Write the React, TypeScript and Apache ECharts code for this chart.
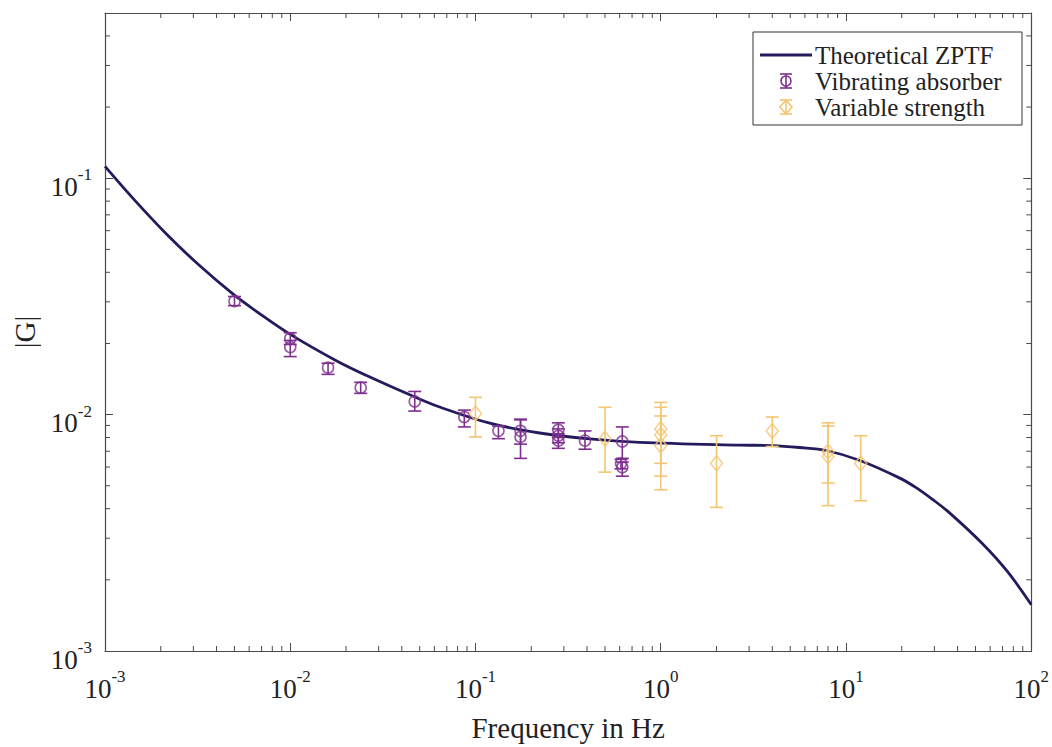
import React, { useEffect, useRef } from "react";
import * as echarts from "echarts";

const FONT = "Liberation Serif";
const LINE_COLOR = "#241b5c";
const PURPLE = "#7e2f8e";
const YELLOW = "#f4c573";
const AXIS_COLOR = "#4a4a4a";

// Theoretical ZPTF curve (frequency in Hz, |G|)
const curveFreq = [0.001, 0.001416, 0.002159, 0.00325, 0.0049, 0.00685, 0.00995, 0.01783, 0.0269, 0.0482, 0.0641, 0.1194, 0.222, 0.413, 0.769, 2.66, 4.01, 5.61, 7.83, 11.8, 19.4, 24.0, 29.2, 36.1, 54.4, 74.3, 100];
const curveG = [0.1122, 0.0822, 0.0578, 0.0426, 0.0324, 0.0267, 0.0219, 0.01687, 0.01442, 0.01178, 0.01077, 0.0092, 0.00836, 0.00789, 0.00763, 0.00743, 0.0074, 0.00726, 0.00705, 0.00641, 0.0054, 0.0049, 0.00439, 0.00385, 0.00285, 0.00217, 0.00157];

// Vibrating absorber measurements
const absorberFreq = [0.005, 0.01, 0.01, 0.016, 0.024, 0.047, 0.087, 0.133, 0.175, 0.175, 0.28, 0.28, 0.28, 0.39, 0.62, 0.61, 0.62];
const absorberG = [0.0302, 0.021, 0.0193, 0.0158, 0.013, 0.01137, 0.00977, 0.00854, 0.00854, 0.00805, 0.00863, 0.00814, 0.00776, 0.00776, 0.0077, 0.00622, 0.00599];
const absorberLow = [0.0289, 0.0198, 0.0176, 0.0148, 0.0123, 0.01035, 0.00887, 0.00791, 0.0075, 0.00653, 0.008, 0.0076, 0.0072, 0.00714, 0.00653, 0.0059, 0.00549];
const absorberHigh = [0.0316, 0.0222, 0.0206, 0.0165, 0.0137, 0.01253, 0.01045, 0.00895, 0.00957, 0.0095, 0.00923, 0.0087, 0.0083, 0.00853, 0.00887, 0.00647, 0.0063];

// Variable strength measurements
const strengthFreq = [0.1, 0.5, 1.0, 1.0, 1.0, 2.0, 4.0, 8.0, 8.0, 12.0];
const strengthG = [0.0101, 0.0079, 0.0087, 0.0082, 0.0074, 0.00622, 0.00853, 0.00698, 0.00666, 0.00622];
const strengthLow = [0.00805, 0.00571, 0.00622, 0.00549, 0.00481, 0.00405, 0.00733, 0.00514, 0.00412, 0.00432];
const strengthHigh = [0.01183, 0.01074, 0.01127, 0.01074, 0.00987, 0.00814, 0.00977, 0.00923, 0.00895, 0.00814];

// Axis ranges and minor tick multipliers
const xMin = 0.001;
const xMax = 100;
const yMin = 0.001;
const yMax = 0.5;
const minorMultipliers = [2, 3, 4, 5, 6, 7, 8, 9];
const xDecades = [-3, -2, -1, 0, 1];
const yDecades = [-3, -2, -1];

const legendNames = ["Theoretical ZPTF", "Vibrating absorber", "Variable strength"];

function powLabel(v: number): string {
  const e = Math.log10(v);
  const r = Math.round(e);
  if (Math.abs(e - r) > 1e-6) return "";
  return `{b|10}{s|${r}}`;
}

const labelRich = {
  b: { fontSize: 27, fontFamily: FONT, color: "#222", lineHeight: 34, verticalAlign: "bottom" },
  s: { fontSize: 17, fontFamily: FONT, color: "#222", lineHeight: 17, verticalAlign: "top" },
};

export default function App() {
  const ref = useRef<HTMLDivElement>(null);

  useEffect(() => {
    document.body.style.margin = "0";
    if (!ref.current) return;
    const chart = echarts.init(ref.current, undefined, { renderer: "svg" });

    const xMinor: number[][] = [];
    xDecades.forEach((d) => minorMultipliers.forEach((m) => xMinor.push([m * Math.pow(10, d), yMin])));
    const yMinor: number[][] = [];
    yDecades.forEach((d) =>
      minorMultipliers.forEach((m) => {
        const v = m * Math.pow(10, d);
        if (v < yMax) yMinor.push([xMin, v]);
      })
    );

    const errRender = (color: string) => (params: any, api: any) => {
      const x = api.value(0);
      const lo = api.value(1);
      const hi = api.value(2);
      const pLo = api.coord([x, lo]);
      const pHi = api.coord([x, hi]);
      const h = 6.5;
      const style = { stroke: color, lineWidth: 1.6, fill: null };
      return {
        type: "group",
        children: [
          { type: "line", shape: { x1: pLo[0], y1: pLo[1], x2: pHi[0], y2: pHi[1] }, style },
          { type: "line", shape: { x1: pLo[0] - h, y1: pLo[1], x2: pLo[0] + h, y2: pLo[1] }, style },
          { type: "line", shape: { x1: pHi[0] - h, y1: pHi[1], x2: pHi[0] + h, y2: pHi[1] }, style },
        ],
      };
    };

    const minorRender = (isX: boolean) => (params: any, api: any) => {
      const cs = params.coordSys;
      const p = api.coord([api.value(0), api.value(1)]);
      const len = 5;
      const style = { stroke: AXIS_COLOR, lineWidth: 1 };
      if (isX) {
        return {
          type: "group",
          children: [
            { type: "line", shape: { x1: p[0], y1: cs.y + cs.height, x2: p[0], y2: cs.y + cs.height - len }, style },
            { type: "line", shape: { x1: p[0], y1: cs.y, x2: p[0], y2: cs.y + len }, style },
          ],
        };
      }
      return {
        type: "group",
        children: [
          { type: "line", shape: { x1: cs.x, y1: p[1], x2: cs.x + len, y2: p[1] }, style },
          { type: "line", shape: { x1: cs.x + cs.width, y1: p[1], x2: cs.x + cs.width - len, y2: p[1] }, style },
        ],
      };
    };

    const axisCommon = {
      type: "log",
      logBase: 10,
      axisLine: { show: true, lineStyle: { color: AXIS_COLOR, width: 1.2 } },
      axisTick: { show: true, inside: true, length: 8, lineStyle: { color: AXIS_COLOR, width: 1 } },
      splitLine: { show: false },
      minorTick: { show: false },
    };

    const legendX = 753;
    const legendY = 32;
    const rowY = [55, 81, 107];

    chart.setOption({
      animation: false,
      backgroundColor: "#fff",
      textStyle: { fontFamily: FONT },
      grid: { left: 105, right: 20, top: 13, bottom: 86, containLabel: false },
      xAxis: [
        {
          ...axisCommon,
          min: xMin,
          max: xMax,
          position: "bottom",
          name: "Frequency in Hz",
          nameLocation: "middle",
          nameGap: 62,
          nameTextStyle: { fontFamily: FONT, fontSize: 29, color: "#222" },
          axisLabel: { show: true, margin: 17, formatter: powLabel, rich: labelRich, fontFamily: FONT, showMinLabel: true, showMaxLabel: true },
        },
        {
          ...axisCommon,
          min: xMin,
          max: xMax,
          position: "top",
          axisLabel: { show: false },
        },
      ],
      yAxis: [
        {
          ...axisCommon,
          min: yMin,
          max: yMax,
          position: "left",
          name: "|G|",
          nameLocation: "middle",
          nameGap: 66,
          nameTextStyle: { fontFamily: FONT, fontSize: 29, color: "#222" },
          axisLabel: { show: true, margin: 13, formatter: powLabel, rich: labelRich, fontFamily: FONT, padding: [10, 0, 0, 0] },
        },
        {
          ...axisCommon,
          min: yMin,
          max: yMax,
          position: "right",
          axisLabel: { show: false },
        },
      ],
      series: [
        {
          name: "xMinorTicks",
          type: "custom",
          coordinateSystem: "cartesian2d",
          data: xMinor,
          renderItem: minorRender(true),
          silent: true,
          clip: false,
          z: 1,
        },
        {
          name: "yMinorTicks",
          type: "custom",
          coordinateSystem: "cartesian2d",
          data: yMinor,
          renderItem: minorRender(false),
          silent: true,
          clip: false,
          z: 1,
        },
        {
          name: legendNames[0],
          type: "line",
          data: curveFreq.map((f, i) => [f, curveG[i]]),
          showSymbol: false,
          smooth: 0.35,
          lineStyle: { color: LINE_COLOR, width: 2.8 },
          z: 3,
        },
        {
          name: legendNames[1] + " error",
          type: "custom",
          coordinateSystem: "cartesian2d",
          data: absorberFreq.map((f, i) => [f, absorberLow[i], absorberHigh[i]]),
          encode: { x: 0, y: [1, 2] },
          renderItem: errRender(PURPLE),
          z: 4,
        },
        {
          name: legendNames[1],
          type: "scatter",
          data: absorberFreq.map((f, i) => [f, absorberG[i]]),
          symbol: "circle",
          symbolSize: 11,
          itemStyle: { color: "rgba(0,0,0,0)", borderColor: PURPLE, borderWidth: 1.6 },
          z: 5,
        },
        {
          name: legendNames[2] + " error",
          type: "custom",
          coordinateSystem: "cartesian2d",
          data: strengthFreq.map((f, i) => [f, strengthLow[i], strengthHigh[i]]),
          encode: { x: 0, y: [1, 2] },
          renderItem: errRender(YELLOW),
          z: 4,
        },
        {
          name: legendNames[2],
          type: "scatter",
          data: strengthFreq.map((f, i) => [f, strengthG[i]]),
          symbol: "diamond",
          symbolSize: [12, 15],
          itemStyle: { color: "rgba(0,0,0,0)", borderColor: YELLOW, borderWidth: 1.6 },
          z: 5,
        },
      ],
      graphic: [
        {
          type: "rect",
          shape: { x: legendX, y: legendY, width: 269, height: 93 },
          style: { fill: "#fff", stroke: "#333", lineWidth: 1 },
          z: 10,
        },
        {
          type: "line",
          shape: { x1: 760, y1: rowY[0], x2: 812, y2: rowY[0] },
          style: { stroke: LINE_COLOR, lineWidth: 2.8 },
          z: 11,
        },
        { type: "line", shape: { x1: 786, y1: rowY[1] - 7, x2: 786, y2: rowY[1] + 7 }, style: { stroke: PURPLE, lineWidth: 1.6 }, z: 11 },
        { type: "line", shape: { x1: 780, y1: rowY[1] - 7, x2: 792, y2: rowY[1] - 7 }, style: { stroke: PURPLE, lineWidth: 1.6 }, z: 11 },
        { type: "line", shape: { x1: 780, y1: rowY[1] + 7, x2: 792, y2: rowY[1] + 7 }, style: { stroke: PURPLE, lineWidth: 1.6 }, z: 11 },
        { type: "circle", shape: { cx: 786, cy: rowY[1], r: 5 }, style: { fill: "none", stroke: PURPLE, lineWidth: 1.6 }, z: 11 },
        { type: "line", shape: { x1: 786, y1: rowY[2] - 7, x2: 786, y2: rowY[2] + 7 }, style: { stroke: YELLOW, lineWidth: 1.6 }, z: 11 },
        { type: "line", shape: { x1: 780, y1: rowY[2] - 7, x2: 792, y2: rowY[2] - 7 }, style: { stroke: YELLOW, lineWidth: 1.6 }, z: 11 },
        { type: "line", shape: { x1: 780, y1: rowY[2] + 7, x2: 792, y2: rowY[2] + 7 }, style: { stroke: YELLOW, lineWidth: 1.6 }, z: 11 },
        {
          type: "polygon",
          shape: { points: [[786, rowY[2] - 7], [792, rowY[2]], [786, rowY[2] + 7], [780, rowY[2]]] },
          style: { fill: "none", stroke: YELLOW, lineWidth: 1.6 },
          z: 11,
        },
        ...legendNames.map((n, i) => ({
          type: "text",
          x: 815,
          y: rowY[i],
          style: { text: n, fontFamily: FONT, fontSize: 25, fill: "#222", verticalAlign: "middle" },
          z: 11,
        })),
      ],
    });

    return () => chart.dispose();
  }, []);

  return <div ref={ref} style={{ width: 1052, height: 747 }} />;
}
